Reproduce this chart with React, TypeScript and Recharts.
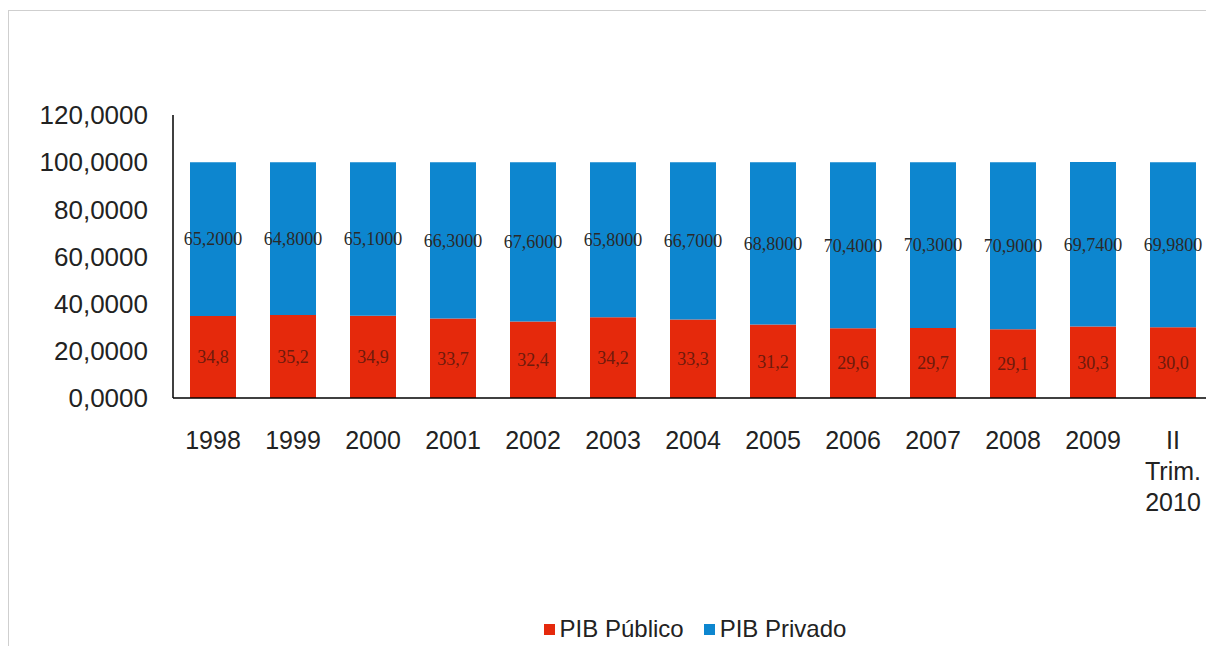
import { BarChart, Bar, XAxis, YAxis, LabelList } from 'recharts'

const categories = ['1998', '1999', '2000', '2001', '2002', '2003', '2004', '2005', '2006', '2007', '2008', '2009', 'II\nTrim.\n2010']
const pibPublico = [34.8, 35.2, 34.9, 33.7, 32.4, 34.2, 33.3, 31.2, 29.6, 29.7, 29.1, 30.3, 30.0]
const pibPrivado = [65.2, 64.8, 65.1, 66.3, 67.6, 65.8, 66.7, 68.8, 70.4, 70.3, 70.9, 69.74, 69.98]
const yTicks = [0, 20, 40, 60, 80, 100, 120]

const RED = '#e5290c'
const BLUE = '#0d86cf'
const SANS = "'Liberation Sans', Arial, sans-serif"
const SERIF = "'Liberation Serif', 'Times New Roman', serif"

const data = categories.map((c, i) => ({ name: c, publico: pibPublico[i], privado: pibPrivado[i] }))

const fmt = (v: number, d: number) => v.toFixed(d).replace('.', ',')

function CategoryTick({ x, y, payload }: any) {
  const lines = String(payload.value).split('\n')
  return (
    <text x={x} y={y} textAnchor="middle" fill="#222" fontSize={25} fontFamily={SANS}>
      {lines.map((l, i) => (
        <tspan key={i} x={x} dy={i === 0 ? 43 : 31}>{l}</tspan>
      ))}
    </text>
  )
}

export default function App() {
  return (
    <div style={{ position: 'relative', width: 1206, height: 636, marginTop: 2, borderTop: '1px solid #cfcfcf', borderLeft: '1px solid #cfcfcf', boxSizing: 'border-box', background: '#fff' }}>
      <div style={{ position: 'absolute', left: -1, top: -3 }}>
        <BarChart width={1206} height={560} data={data} margin={{ top: 107, right: 1, bottom: 0, left: 15 }} barSize={46}>
          <YAxis
            domain={[0, 120]}
            ticks={yTicks}
            width={150}
            tickSize={0}
            tickMargin={25}
            axisLine={{ stroke: '#000', strokeWidth: 1.5 }}
            tick={{ fill: '#222', fontSize: 26, fontFamily: SANS }}
            tickFormatter={(v: number) => fmt(v, 4)}
          />
          <XAxis
            dataKey="name"
            height={170}
            tickLine={false}
            interval={0}
            axisLine={{ stroke: '#000', strokeWidth: 1.5 }}
            tick={<CategoryTick />}
          />
          <Bar dataKey="publico" stackId="a" fill={RED} isAnimationActive={false}>
            <LabelList dataKey="publico" position="center" formatter={(v: number) => fmt(v, 1)} fill="#6e1a0c" fontSize={18} fontFamily={SERIF} />
          </Bar>
          <Bar dataKey="privado" stackId="a" fill={BLUE} isAnimationActive={false}>
            <LabelList dataKey="privado" position="center" formatter={(v: number) => fmt(v, 4)} fill="#2a2a2a" fontSize={18} fontFamily={SERIF} />
          </Bar>
        </BarChart>
      </div>
      <div style={{ position: 'absolute', top: 604, left: 0, width: 1372, display: 'flex', justifyContent: 'center', fontFamily: SANS, fontSize: 24, color: '#222' }}>
        <span style={{ display: 'flex', alignItems: 'center', marginRight: 20 }}>
          <span style={{ width: 11, height: 11, background: RED, marginRight: 5 }} />PIB Público
        </span>
        <span style={{ display: 'flex', alignItems: 'center' }}>
          <span style={{ width: 11, height: 11, background: BLUE, marginRight: 5 }} />PIB Privado
        </span>
      </div>
    </div>
  )
}
